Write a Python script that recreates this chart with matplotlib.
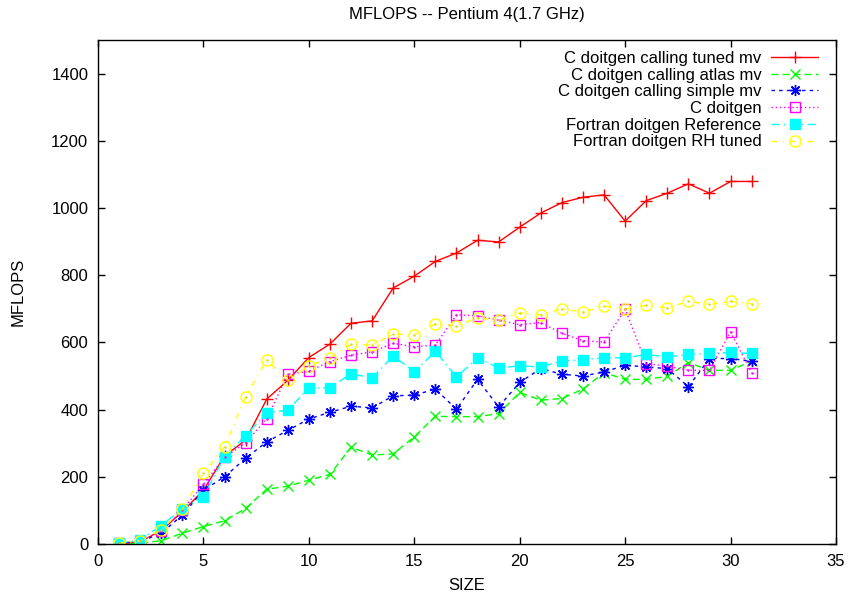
import matplotlib
matplotlib.use("Agg")
import matplotlib.pyplot as plt

plt.rcParams['font.family'] = ['Liberation Sans', 'DejaVu Sans']

# problem sizes
size = list(range(1, 32))

# MFLOPS per variant
tuned_mv = [0, 7, 40, 96, 160, 262, 309, 431, 487, 555, 595, 657, 664, 762, 797, 841,
            866, 904, 899, 943, 985, 1016, 1032, 1039, 961, 1022, 1044, 1072, 1044, 1079, 1079]
atlas_mv = [2, 2, 10, 32, 52, 69, 106, 163, 172, 190, 207, 288, 265, 268, 319, 380,
            379, 379, 388, 451, 428, 433, 461, 510, 490, 490, 499, 540, 517, 517, 544]
simple_mv = [2, 7, 32, 86, 160, 200, 255, 304, 338, 372, 392, 410, 405, 441, 443, 461,
             401, 490, 408, 481, 522, 505, 500, 512, 532, 527, 522, 468, 552, 552, 544]
c_doitgen = [2, 10, 38, 101, 178, 258, 301, 372, 505, 514, 543, 562, 572, 597, 587, 592,
             682, 679, 666, 653, 659, 627, 605, 601, 699, 537, 529, 517, 517, 631, 510]
f_ref = [2, 12, 55, 104, 141, 260, 322, 391, 398, 465, 465, 507, 494, 560, 512, 574,
         497, 554, 524, 530, 527, 545, 548, 554, 554, 564, 557, 564, 567, 570, 567]
f_rh = [2, 10, 42, 104, 210, 289, 438, 547, 487, 529, 554, 594, 592, 625, 623, 655,
        650, 673, 666, 688, 682, 700, 690, 708, 700, 710, 703, 722, 713, 722, 715]

fig = plt.figure(figsize=(8.53, 5.96), dpi=100)
ax = fig.add_axes([98/853, 1-544/596, (836-98)/853, (544-40)/596])

lw = 1.0
ms = 7
ax.plot(size, tuned_mv, color='#ff0000', lw=lw, marker='+', ms=ms + 1, mew=1,
        label='C doitgen calling tuned mv')
ax.plot(size, atlas_mv, color='#00ff00', lw=lw, marker='x', ms=ms, mew=1,
        dashes=(5, 3), label='C doitgen calling atlas mv')
ax.plot(size, simple_mv, color='#0000ff', lw=lw, marker=(8, 2, 0), ms=ms + 1, mew=1,
        dashes=(2.5, 3), label='C doitgen calling simple mv')
ax.plot(size, c_doitgen, color='#ff00ff', lw=lw, marker='s', ms=ms, mew=1, mfc='none',
        dashes=(1, 2), label='C doitgen')
ax.plot(size, f_ref, color='#00ffff', lw=lw, marker='s', ms=ms, mew=1,
        dashes=(6, 3, 1, 3), label='Fortran doitgen Reference')
ax.plot(size, f_rh, color='#ffff00', lw=lw, marker='o', ms=ms + 1, mew=1, mfc='none',
        dashes=(4, 4, 1, 4), label='Fortran doitgen RH tuned')
# tiny centre dots of the open gnuplot markers
ax.plot(size, c_doitgen, ls='none', marker='.', ms=1.5, color='#ff00ff')
ax.plot(size, f_rh, ls='none', marker='.', ms=1.5, color='#dddd00')

ax.set_xlim(0, 35)
ax.set_ylim(0, 1500)
ax.set_xticks(range(0, 36, 5))
ax.set_yticks(range(0, 1401, 200))
ax.tick_params(direction='in', length=5, width=1, top=True, right=True,
               labelsize=12, pad=7)
for s in ax.spines.values():
    s.set_linewidth(1)

leg = ax.legend(loc='upper right', bbox_to_anchor=((818-98)/738, 1-(51-40)/504),
                borderaxespad=0, borderpad=0, frameon=False, markerfirst=False,
                fontsize=12, handlelength=2.8, handletextpad=0.6, labelspacing=0.1)

fig.text(467/853, 1-15/596, 'MFLOPS -- Pentium 4(1.7 GHz)', ha='center', va='center', fontsize=12)
fig.text(467/853, 1-585/596, 'SIZE', ha='center', va='center', fontsize=12)
fig.text(18/853, 1-292/596, 'MFLOPS', ha='center', va='center', rotation=90, fontsize=12)

fig.savefig('out.png', dpi=100)
